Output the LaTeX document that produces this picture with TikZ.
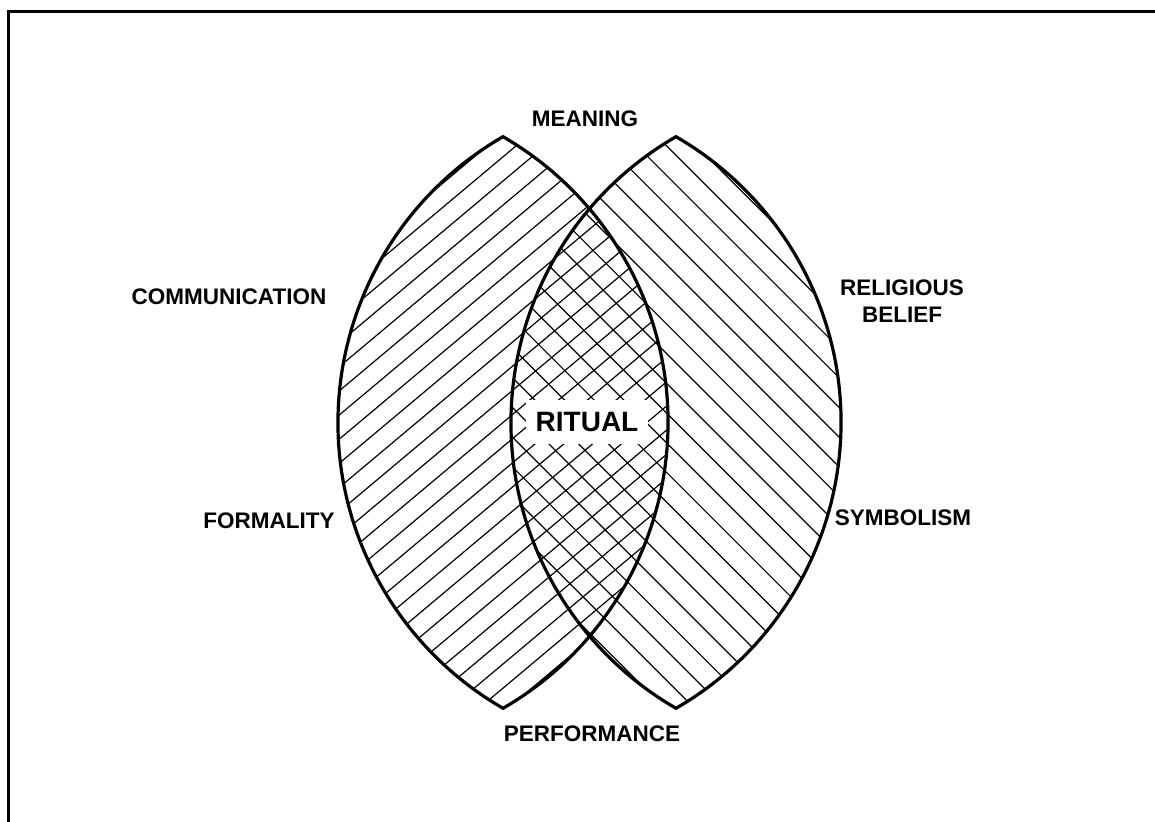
\documentclass[tikz,border=0pt]{standalone}
\usepackage{fontspec}
\setmainfont{Liberation Sans}
\begin{document}
\begin{tikzpicture}[x=0.5pt,y=0.5pt,
  lensline/.style={line width=1.6pt,line join=miter},
  hatchline/.style={line width=0.6pt},
  lbl/.style={font=\bfseries\fontsize{11.25}{13.5}\selectfont,inner sep=0pt,align=center},
  frameline/.style={line width=1.5pt}]
\useasboundingbox (0,0) rectangle (1155,821);
% frame
\draw[frameline] (8,-5) -- (8,809) -- (1160,809);
% circle centres
\coordinate (C1) at (338,398.5);
\coordinate (C2) at (668,398.5);
\coordinate (C3) at (511,398.5);
\coordinate (C4) at (841,398.5);
% left lens hatching
\begin{scope}
  \clip (C1) circle (165pt);
  \clip (C2) circle (165pt);
  \begin{scope}[shift={(503,398.5)},rotate=40]
    \foreach \k in {-20,...,20} \draw[hatchline] (-450,\k*18.5) -- (450,\k*18.5);
  \end{scope}
\end{scope}
% right lens hatching
\begin{scope}
  \clip (C3) circle (165pt);
  \clip (C4) circle (165pt);
  \begin{scope}[shift={(676,398.5)},rotate=-45]
    \foreach \k in {-20,...,20} \draw[hatchline] (-450,\k*21) -- (450,\k*21);
  \end{scope}
\end{scope}
% lens outlines
\draw[lensline] (503,684.3) arc[start angle=120,end angle=240,radius=165pt]
                arc[start angle=-60,end angle=60,radius=165pt] -- cycle;
\draw[lensline] (676,684.3) arc[start angle=120,end angle=240,radius=165pt]
                arc[start angle=-60,end angle=60,radius=165pt] -- cycle;
% labels
\node[fill=white,inner xsep=5pt,inner ysep=6pt,font=\bfseries\fontsize{14}{16}\selectfont] (ritual) at (587,399) {RITUAL};
\node[lbl] (meaning) at (585,702) {MEANING};
\node[lbl] (performance) at (592,87) {PERFORMANCE};
\node[lbl] (communication) at (229,524) {COMMUNICATION};
\node[lbl] (religious) at (902,520) {RELIGIOUS\\BELIEF};
\node[lbl] (formality) at (269,300) {FORMALITY};
\node[lbl] (symbolism) at (903,303) {SYMBOLISM};
\end{tikzpicture}
\end{document}
